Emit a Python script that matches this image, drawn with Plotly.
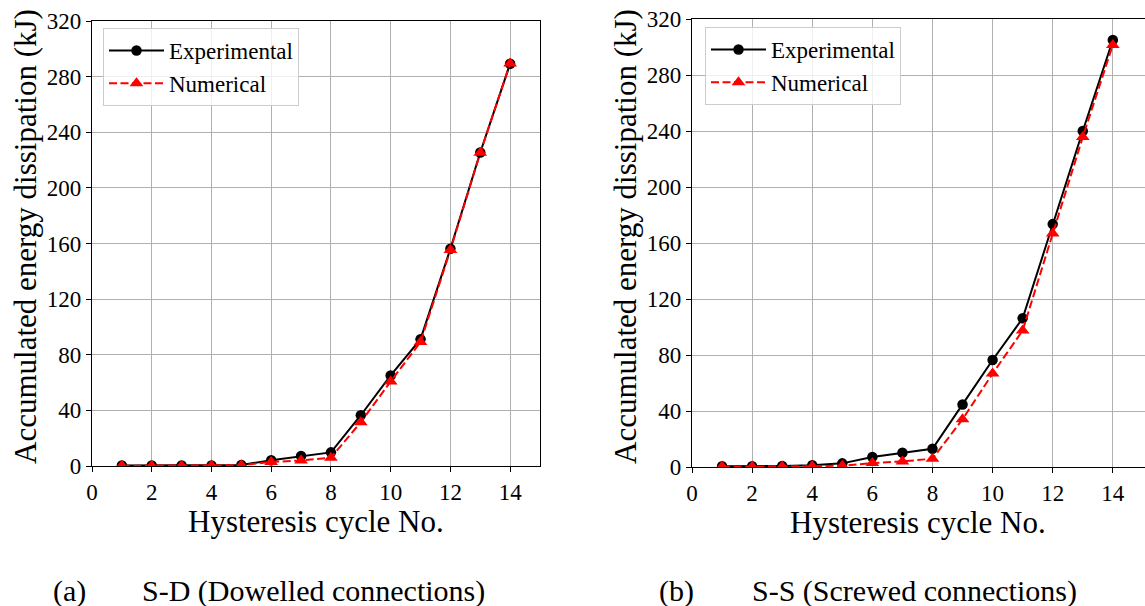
import plotly.graph_objects as go

# Hysteresis cycle numbers
cycles = list(range(1, 15))

# (a) S-D: dowelled connections, accumulated energy (kJ)
sd_experimental = [0.3, 0.3, 0.3, 0.4, 0.8, 4.1, 7.2, 9.8, 36.5, 65.1, 91.2, 156.2, 225.4, 289.3]
sd_numerical = [0.2, 0.2, 0.2, 0.3, 0.6, 2.9, 4.0, 6.0, 31.5, 60.8, 89.2, 155.3, 225.2, 289.5]

# (b) S-S: screwed connections, accumulated energy (kJ)
ss_experimental = [0.5, 0.5, 0.7, 1.2, 2.6, 7.1, 10.2, 13.0, 44.7, 76.4, 106.2, 173.5, 240.0, 305.0]
ss_numerical = [0.3, 0.3, 0.4, 0.6, 0.9, 2.8, 4.0, 5.9, 34.1, 66.7, 97.5, 166.8, 235.7, 301.5]

x_ticks = [0, 2, 4, 6, 8, 10, 12, 14]
y_ticks = [0, 40, 80, 120, 160, 200, 240, 280, 320]

captions = [("(a)", "S-D (Dowelled connections)"), ("(b)", "S-S (Screwed connections)")]

FONT = "Liberation Serif"
W, H = 1145, 606


def px_x(p):
    return p / W


def px_y(p):
    return 1 - p / H


fig = go.Figure()

panels = [
    (sd_experimental, sd_numerical, "x", "y", "legend"),
    (ss_experimental, ss_numerical, "x2", "y2", "legend2"),
]
for exp_vals, num_vals, xa, ya, lg in panels:
    fig.add_trace(go.Scatter(
        x=cycles, y=exp_vals, name="Experimental", mode="lines+markers",
        line=dict(color="black", width=2),
        marker=dict(symbol="circle", size=10.5, color="black"),
        xaxis=xa, yaxis=ya, legend=lg,
    ))
    fig.add_trace(go.Scatter(
        x=cycles, y=num_vals, name="Numerical", mode="lines+markers",
        line=dict(color="#ff0000", width=2, dash="8px,3.5px"),
        marker=dict(symbol="triangle-up", size=12, color="#ff0000"),
        xaxis=xa, yaxis=ya, legend=lg,
    ))

axis_common = dict(
    showline=True, linecolor="black", linewidth=1.3,
    showgrid=True, gridcolor="#b0b0b0", gridwidth=1.1,
    ticks="outside", ticklen=5, tickwidth=1.2, tickcolor="black",
    tickfont=dict(family=FONT, size=23, color="black"),
    zeroline=False, automargin=False,
)

fig.update_layout(
    template="none",
    width=W, height=H,
    margin=dict(l=0, r=0, t=0, b=0, pad=0, autoexpand=False),
    paper_bgcolor="white", plot_bgcolor="white",
    font=dict(family=FONT, color="black"),
    xaxis=dict(axis_common, domain=[px_x(92), px_x(540)], range=[0, 15],
               tickvals=x_ticks, mirror=True, anchor="y"),
    yaxis=dict(axis_common, domain=[px_y(466), px_y(21)], range=[0, 320],
               tickvals=y_ticks, mirror=True, anchor="x"),
    xaxis2=dict(axis_common, domain=[px_x(692), 1.0], range=[0, 15.07],
                tickvals=x_ticks, mirror=True, anchor="y2"),
    yaxis2=dict(axis_common, domain=[px_y(467), px_y(19)], range=[0, 320],
                tickvals=y_ticks, mirror=False, anchor="x2"),
    legend=dict(
        x=px_x(103), y=px_y(28), xanchor="left", yanchor="top",
        bgcolor="rgba(255,255,255,0.8)", bordercolor="#cccccc", borderwidth=1,
        font=dict(family=FONT, size=23, color="black"), itemwidth=55,
        tracegroupgap=0,
    ),
    legend2=dict(
        x=px_x(705), y=px_y(27), xanchor="left", yanchor="top",
        bgcolor="rgba(255,255,255,0.8)", bordercolor="#cccccc", borderwidth=1,
        font=dict(family=FONT, size=23, color="black"), itemwidth=55,
        tracegroupgap=0,
    ),
)

# Axis titles
title_font = dict(family=FONT, size=31, color="black")
for cx, cy in [(316, 521), (918, 522)]:
    fig.add_annotation(text="Hysteresis cycle No.", x=px_x(cx), y=px_y(cy),
                       xref="paper", yref="paper", showarrow=False,
                       xanchor="center", yanchor="middle", font=title_font)
for cx, cy in [(25, 237), (625, 237)]:
    fig.add_annotation(text="Accumulated energy dissipation (kJ)", x=px_x(cx), y=px_y(cy),
                       xref="paper", yref="paper", showarrow=False, textangle=-90,
                       xanchor="center", yanchor="middle", font=title_font)

# Panel captions
cap_font = dict(family=FONT, size=30, color="black")
for (label, desc), (lx, dx) in zip(captions, [(51, 140), (657, 750)]):
    fig.add_annotation(text=label, x=px_x(lx), y=px_y(591), xref="paper", yref="paper",
                       showarrow=False, xanchor="left", yanchor="middle", font=cap_font)
    fig.add_annotation(text=desc, x=px_x(dx), y=px_y(591), xref="paper", yref="paper",
                       showarrow=False, xanchor="left", yanchor="middle", font=cap_font)

fig.write_html("out.html")
